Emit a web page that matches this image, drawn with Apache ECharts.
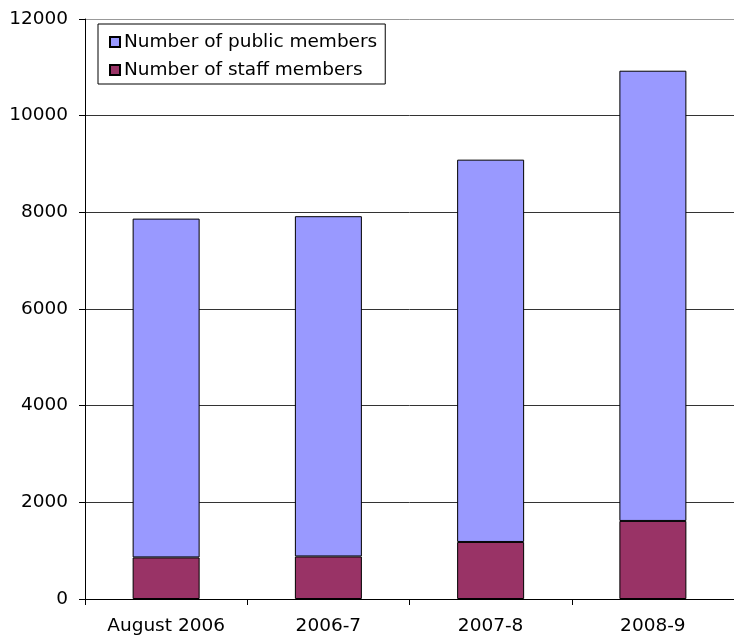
<!DOCTYPE html>
<html>
<head>
<meta charset="utf-8">
<script src="https://cdn.jsdelivr.net/npm/echarts@6/dist/echarts.min.js"></script>
<style>
  html, body { margin: 0; padding: 0; background: #fff; }
  #chart { width: 734px; height: 641px; }
</style>
</head>
<body>
<div id="chart"></div>
<script>
// data
var categories = ['August 2006', '2006-7', '2007-8', '2008-9'];
var staffMembers = [860, 880, 1180, 1615];
var publicMembers = [7010, 7040, 7910, 9315];
var yTicks = [0, 2000, 4000, 6000, 8000, 10000, 12000];

var chart = echarts.init(document.getElementById('chart'));

var font = 'DejaVu Sans, Liberation Sans, sans-serif';

var option = {
	animation: false,
	backgroundColor: '#ffffff',
	grid: {
		left: 85,
		top: 19,
		width: 660,
		bottom: 42
	},
	legend: {
		left: 98,
		top: 24,
		orient: 'vertical',
		data: ['Number of public members', 'Number of staff members'],
		icon: 'rect',
		itemWidth: 10,
		itemHeight: 10,
		itemGap: 8,
		padding: [8, 8, 4, 11],
		borderColor: '#000',
		borderWidth: 1,
		backgroundColor: '#fff',
		textStyle: {
			fontFamily: font,
			fontSize: 18.5,
			color: '#000',
			lineHeight: 20,
			padding: [0, 0, 0, -1]
		}
	},
	xAxis: {
		type: 'category',
		data: categories,
		axisLine: { lineStyle: { color: '#000', width: 1 } },
		axisTick: { show: true, length: 6, inside: false, lineStyle: { color: '#000' } },
		axisLabel: { fontFamily: font, fontSize: 18.5, color: '#000', margin: 18 }
	},
	yAxis: {
		type: 'value',
		min: yTicks[0],
		max: yTicks[yTicks.length - 1],
		interval: 2000,
		axisLine: { show: true, lineStyle: { color: '#000', width: 1 } },
		axisTick: { show: true, length: 6, lineStyle: { color: '#000' } },
		axisLabel: {
			fontFamily: font,
			fontSize: 18.5,
			color: '#000',
			margin: 17,
			formatter: function (v) { return String(v); }
		},
		splitLine: {
			show: true,
			lineStyle: {
				color: ['#000', '#333', '#333', '#333', '#333', '#333', '#999'],
				width: 1
			}
		}
	},
	series: [
		{
			name: 'Number of staff members',
			type: 'bar',
			stack: 'members',
			barWidth: 67,
			data: staffMembers,
			itemStyle: { color: '#993366', borderColor: '#000', borderWidth: 1 }
		},
		{
			name: 'Number of public members',
			type: 'bar',
			stack: 'members',
			barWidth: 67,
			data: publicMembers,
			itemStyle: { color: '#9999FF', borderColor: '#000', borderWidth: 1 }
		}
	]
};

chart.setOption(option);
</script>
</body>
</html>
